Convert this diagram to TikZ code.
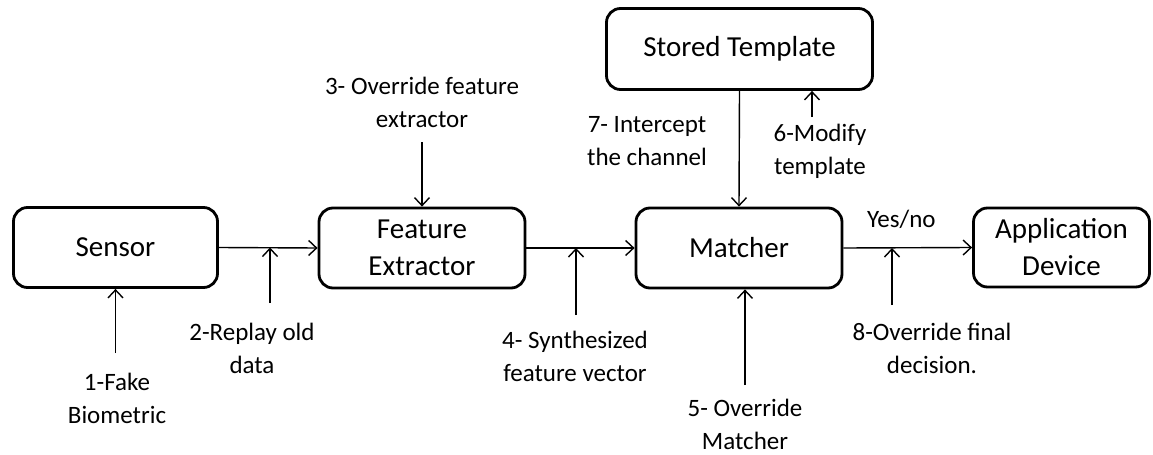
\documentclass[tikz,border=0pt]{standalone}
\usepackage{fontspec}
\setmainfont{Carlito}
\usetikzlibrary{arrows.meta}
\tikzset{
    block/.style={draw, line width=1.4pt, rounded corners=7pt, align=center,
        font=\fontsize{14.5}{18.5}\selectfont},
    attacklabel/.style={align=center, font=\fontsize{12.5}{16.5}\selectfont},
    flow/.style={-{Straight Barb[length=4pt, width=7.5pt]}, line width=0.7pt},
}

\begin{document}
\begin{tikzpicture}[x=0.5pt, y=-0.5pt]
            \useasboundingbox (0, 0) rectangle (1153, 455);
            \node[block, minimum width=102pt, minimum height=40pt] (sensor)
                at (115.5, 247.5) {Sensor};
            \node[block, minimum width=103pt, minimum height=40pt] (fe)
                at (422, 248) {Feature\\Extractor};
            \node[block, minimum width=103pt, minimum height=40pt] (matcher)
                at (739, 248) {Matcher};
            \node[block, minimum width=88pt, minimum height=39.5pt] (appdev)
                at (1061.5, 247.5) {Application\\Device};
            \node[block, minimum width=133pt, minimum height=40.5pt] (stored)
                at (739.5, 49) {Stored Template};
            \draw[flow] (sensor.east) -- (fe.west);
            \draw[flow] (fe.east) -- (matcher.west);
            \draw[flow] (matcher.east) -- (appdev.west) node[above, pos=.45,
                attacklabel, yshift=6pt] (yesno) {Yes/no};
            \draw[flow] (stored.south) -- (matcher.north);
            \coordinate (a1) at (115.5, 353);
            \coordinate (a2) at (270, 303);
            \coordinate (a3) at (422, 142);
            \coordinate (a4) at (576, 315);
            \coordinate (a5) at (745, 385);
            \coordinate (a6) at (812, 117);
            \coordinate (a8) at (892, 305);
            \draw[flow] (a1) -- (sensor.south);
            \draw[flow] (a2) -- (a2 |- sensor.east);
            \draw[flow] (a3) -- (fe.north);
            \draw[flow] (a4) -- (a4 |- fe.east);
            \draw[flow] (a5) -- (a5 |- matcher.south);
            \draw[flow] (a6) -- (a6 |- stored.south);
            \draw[flow] (a8) -- (a8 |- matcher.east);
            \node[attacklabel] (l1) at (117, 398) {1-Fake\\Biometric};
            \node[attacklabel] (l2) at (252, 348) {2-Replay old\\data};
            \node[attacklabel] (l3) at (422, 102)
                {3- Override feature\\extractor};
            \node[attacklabel] (l4) at (575, 356)
                {4- Synthesized\\feature vector};
            \node[attacklabel] (l5) at (745, 424) {5- Override\\Matcher};
            \node[attacklabel] (l6) at (820, 151) {6-Modify\\template};
            \node[attacklabel] (l7) at (647, 141) {7- Intercept\\the channel};
            \node[attacklabel] (l8) at (932, 348)
                {8-Override final\\decision.};
        \end{tikzpicture}
\end{document}
